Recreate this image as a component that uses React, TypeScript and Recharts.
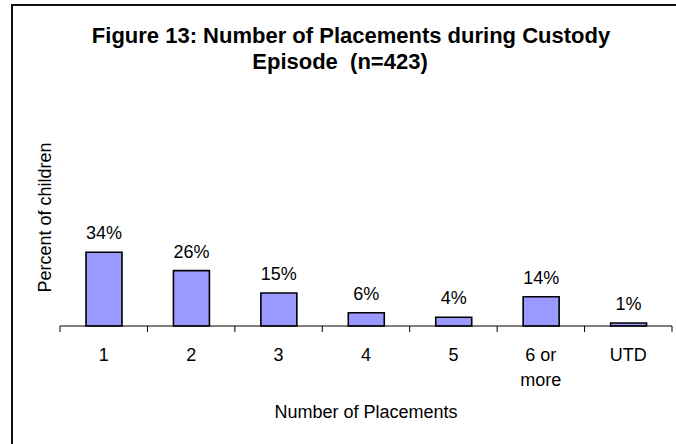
import { BarChart, Bar, XAxis, YAxis, LabelList } from 'recharts';

const categories = ['1', '2', '3', '4', '5', '6 or more', 'UTD'];
// percent of children; labels show them rounded
const percents = [34, 25.5, 15.2, 6.1, 4, 13.5, 1.4];
const boundaryTicks = [0, 1, 2, 3, 4, 5, 6, 7];

const data = categories.map((name, i) => ({ name, pct: percents[i] }));

const FONT = '"Liberation Sans", Arial, sans-serif';

function CategoryTick(props: any) {
  const { x, y, payload } = props;
  const words: string[] = String(payload.value).split(' ');
  // "6 or more" is broken after "or" in the original
  const lines = words.length > 2 ? [words.slice(0, 2).join(' '), words.slice(2).join(' ')] : [words.join(' ')];
  return (
    <text x={x} y={y} textAnchor="middle" fontFamily={FONT} fontSize={18} fill="#000">
      {lines.map((l, i) => (
        <tspan key={i} x={x} dy={i === 0 ? 21 : 25}>{l}</tspan>
      ))}
    </text>
  );
}

// boundary axis: tick marks only, no text
const NoLabel = () => <g />;

export default function App() {
  return (
    <div style={{ position: 'absolute', left: 0, top: 0, width: 676, height: 444, background: '#fff', overflow: 'hidden' }}>
      <div style={{ position: 'absolute', left: 11, top: 4, right: -4, bottom: -4, borderTop: '2px solid #111', borderLeft: '2px solid #111' }} />
      <svg width={676} height={90} style={{ position: 'absolute', left: 0, top: 0 }}>
        <text x={351} y={43} textAnchor="middle" fontFamily={FONT} fontWeight="bold" fontSize={22} fill="#000">
          Figure 13: Number of Placements during Custody
        </text>
        <text x={340} y={69} textAnchor="middle" fontFamily={FONT} fontWeight="bold" fontSize={22} fill="#000" style={{ whiteSpace: 'pre' }}>
          {'Episode  (n=423)'}
        </text>
      </svg>
      <div style={{ position: 'absolute', left: 0, top: 0 }}>
        <BarChart width={676} height={444} data={data} margin={{ top: 109, right: 4, bottom: 0, left: 0 }}>
          <XAxis
            xAxisId="cat"
            dataKey="name"
            height={112}
            axisLine={false}
            tickLine={false}
            interval={0}
            tick={<CategoryTick />}
            label={{ value: 'Number of Placements', position: 'insideBottom', offset: 26, fontFamily: FONT, fontSize: 18, fill: '#000' }}
          />
          <XAxis
            xAxisId="bounds"
            type="number"
            dataKey="pct"
            domain={[0, 7]}
            ticks={boundaryTicks}
            allowDataOverflow
            interval={0}
            tick={<NoLabel />}
            tickSize={6}
            height={6}
            axisLine={{ stroke: '#000', strokeWidth: 1 }}
            tickLine={{ stroke: '#000', strokeWidth: 1 }}
          />
          <YAxis
            domain={[0, 100]}
            width={60}
            tick={false}
            tickLine={false}
            axisLine={false}
            label={{ value: 'Percent of children', angle: -90, position: 'center', dx: 15, fontFamily: FONT, fontSize: 18, fill: '#000' }}
          />
          <Bar xAxisId="cat" dataKey="pct" barSize={36} fill="#9999FF" stroke="#000" strokeWidth={1.6} isAnimationActive={false}>
            <LabelList
              dataKey="pct"
              position="top"
              offset={13}
              formatter={(v: any) => `${Math.round(v)}%`}
              style={{ fontFamily: FONT, fontSize: 18, fill: '#000' }}
            />
          </Bar>
        </BarChart>
      </div>
    </div>
  );
}
